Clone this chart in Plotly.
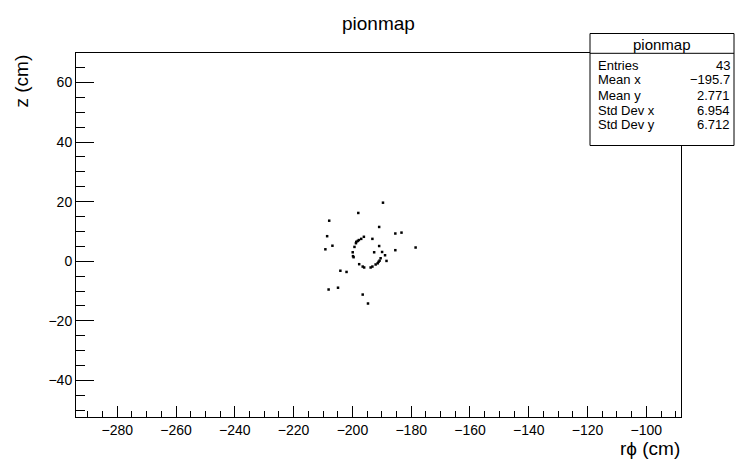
import plotly.graph_objects as go

# ---- data ----
rphi = [-189.6, -198.0, -207.9, -190.9, -208.6, -185.4, -183.3, -196.1, -197.0, -197.8,
        -198.7, -198.8, -193.2, -206.8, -209.2, -199.3, -190.9, -178.5, -185.4, -192.6,
        -189.9, -199.9, -199.8, -199.6, -188.9, -190.4, -188.4, -190.75, -191.1, -191.4,
        -192.1, -197.7, -196.5, -196.0, -193.8, -193.2, -204.1, -202.0, -204.9, -208.1,
        -196.5, -194.7, -198.2]
z = [19.65, 16.2, 13.6, 11.5, 8.4, 9.3, 9.6, 8.2, 7.5, 7.1,
     6.5, 6.05, 7.5, 5.2, 4.0, 4.8, 5.1, 4.6, 3.7, 3.0,
     3.1, 3.0, 1.7, 1.35, 2.0, 1.0, 0.1, 0.2, -0.2, -0.7,
     -1.1, -1.0, -1.8, -2.1, -2.1, -1.8, -3.2, -3.6, -8.9, -9.5,
     -11.2, -14.2, 6.8]

title = "pionmap"
stat_labels = ["Entries", "Mean x", "Mean y", "Std Dev x", "Std Dev y"]
stat_values = ["43", "\u2212195.7", "2.771", "6.954", "6.712"]

xrange_ = [-294.05, -88.2]
yrange_ = [-52.3, 69.9]

W, H = 737, 459
L, R, T, B = 76, 56, 53, 42
PW, PH = W - L - R, H - T - B
FONT = "Liberation Sans, Arial, Helvetica, sans-serif"


def px(xp):
    return (xp - L) / PW


def py(yp):
    return (H - B - yp) / PH


fig = go.Figure()
fig.add_trace(go.Scatter(
    x=rphi, y=z, mode="markers",
    marker=dict(symbol="square", size=2.5, color="black", line=dict(width=0)),
    hoverinfo="x+y", showlegend=False,
))

axis_common = dict(
    showgrid=False, zeroline=False, showline=True, linecolor="black", linewidth=1,
    mirror=True, ticks="inside", tickcolor="black", tickwidth=1,
    tickfont=dict(family=FONT, size=14, color="black"),
)

fig.update_xaxes(range=xrange_, dtick=20, tick0=0, ticklen=11,
                 minor=dict(ticks="inside", dtick=5, tick0=0, ticklen=6, tickcolor="black"),
                 **axis_common)
fig.update_yaxes(range=yrange_, dtick=20, tick0=0, ticklen=18,
                 minor=dict(ticks="inside", dtick=5, tick0=0, ticklen=9, tickcolor="black"),
                 **axis_common)

shapes = []
annotations = []

# stats box
bx0, bx1, by0, by1, bsep = 590, 734, 33.5, 145.5, 53.3
shapes.append(dict(type="rect", xref="paper", yref="paper",
                   x0=px(bx0), x1=px(bx1), y0=py(by1), y1=py(by0),
                   fillcolor="white", line=dict(color="black", width=1), layer="above"))
shapes.append(dict(type="line", xref="paper", yref="paper",
                   x0=px(bx0), x1=px(bx1), y0=py(bsep), y1=py(bsep),
                   line=dict(color="black", width=1), layer="above"))
annotations.append(dict(text=title, xref="paper", yref="paper",
                        x=px((bx0 + bx1) / 2), y=py(44), xanchor="center", yanchor="middle",
                        showarrow=False, font=dict(family=FONT, size=15, color="black")))
row_y = [65, 80, 95, 110, 124.5]
for lab, val, ry in zip(stat_labels, stat_values, row_y):
    annotations.append(dict(text=lab, xref="paper", yref="paper", x=px(596), y=py(ry),
                            xanchor="left", yanchor="middle", showarrow=False,
                            font=dict(family=FONT, size=13, color="black")))
    annotations.append(dict(text=val, xref="paper", yref="paper", x=px(732), y=py(ry),
                            xanchor="right", yanchor="middle", showarrow=False,
                            font=dict(family=FONT, size=13, color="black")))

# title
annotations.append(dict(text=title, xref="paper", yref="paper", x=px(378), y=py(23),
                        xanchor="center", yanchor="middle", showarrow=False,
                        font=dict(family=FONT, size=19, color="black")))
# axis titles
annotations.append(dict(text="r\u03d5 (cm)", xref="paper", yref="paper", x=px(682), y=py(449),
                        xanchor="right", yanchor="middle", showarrow=False,
                        font=dict(family=FONT, size=19, color="black")))
annotations.append(dict(text="z (cm)", xref="paper", yref="paper", x=px(21), y=py(53),
                        xanchor="center", yanchor="top", showarrow=False, textangle=-90,
                        font=dict(family=FONT, size=19, color="black")))

fig.update_layout(
    width=W, height=H, margin=dict(l=L, r=R, t=T, b=B, pad=0),
    plot_bgcolor="white", paper_bgcolor="white",
    shapes=shapes, annotations=annotations,
    font=dict(family=FONT, color="black"),
)

fig.write_html("out.html")
